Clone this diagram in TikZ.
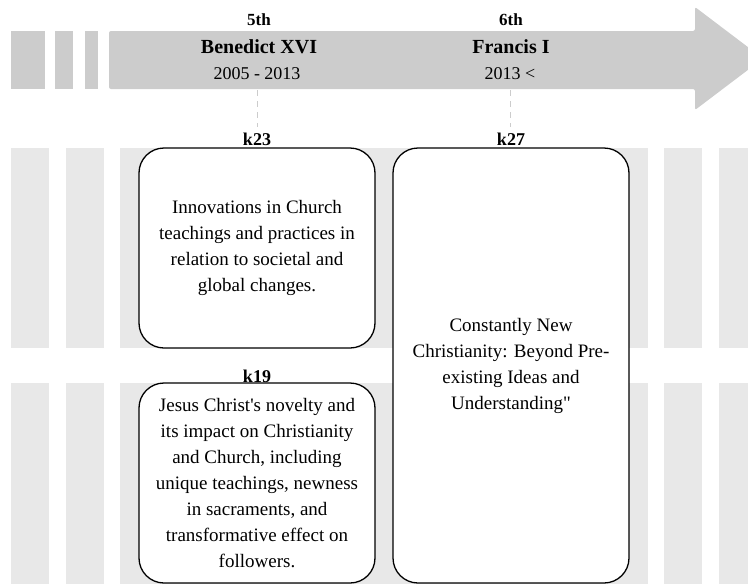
\documentclass[tikz,border=0pt]{standalone}
\usepackage{fontspec}
\setmainfont{Liberation Serif}
\definecolor{arrowgray}{HTML}{CCCCCC}
\definecolor{lanegray}{HTML}{E8E8E8}
\definecolor{dashgray}{HTML}{CCCCCC}
\tikzset{
  lane/.style={fill=lanegray, draw=none},
  arrowpart/.style={fill=arrowgray, draw=none},
  topicbox/.style={draw=black, line width=1.3pt, fill=white, rounded corners=25pt,
    minimum width=236pt, align=center, inner sep=0pt,
    font=\fontsize{19}{26}\selectfont},
  ordinal/.style={anchor=base, font=\fontsize{17}{18}\selectfont\bfseries, inner sep=0pt},
  popename/.style={anchor=base, font=\fontsize{20}{22}\selectfont\bfseries, inner sep=0pt},
  years/.style={anchor=base, font=\fontsize{18}{20}\selectfont, inner sep=0pt},
  klabel/.style={anchor=base, font=\fontsize{18}{20}\selectfont\bfseries, inner sep=0pt},
  timedash/.style={draw=dashgray, line width=1pt, dash pattern=on 6pt off 5pt}
}
\begin{document}
\begin{tikzpicture}[x=1pt,y=-1pt]
\useasboundingbox (0,0) rectangle (748,584);
\clip (0,0) rectangle (748,584);
% lanes
\foreach \ya/\yb in {148/348, 383/590}{
  \fill[lane] (11,\ya) rectangle (49,\yb);
  \fill[lane] (66,\ya) rectangle (104,\yb);
  \fill[lane] (120,\ya) rectangle (648,\yb);
  \fill[lane] (664,\ya) rectangle (702,\yb);
  \fill[lane] (719,\ya) rectangle (757,\yb);
}
% timeline arrow
\fill[arrowpart] (11,31) rectangle (45,89);
\fill[arrowpart] (55,31) rectangle (73,89);
\fill[arrowpart] (85,31) rectangle (98,89);
\fill[arrowpart, rounded corners=2pt] (109,31) -- (695,31) -- (695,7) -- (763,58.5) -- (695,110) -- (695,89) -- (109,89) -- cycle;
% headers
\node[ordinal] (o5) at (259,25) {5th};
\node[popename] (p5) at (259,53) {Benedict XVI};
\node[years] (y5) at (257,79) {2005 - 2013};
\node[ordinal] (o6) at (511,25) {6th};
\node[popename] (p6) at (511,53) {Francis I};
\node[years] (y6) at (510,79) {2013 <};
% dashed connectors
\coordinate (d5a) at (257,90);
\coordinate (d5b) at (257,127);
\coordinate (d6a) at (510,90);
\coordinate (d6b) at (510,127);
\draw[timedash] (d5a) -- (d5b);
\draw[timedash] (d6a) -- (d6b);
% labels
\node[klabel] (l23) at (257,145) {k23};
\node[klabel] (l27) at (511,145) {k27};
\node[klabel] (l19) at (257,382) {k19};
% boxes
\node[topicbox, minimum height=200pt] (k23) at (257,248) {Innovations in Church\\teachings and practices in\\relation to societal and\\global changes.};
\node[topicbox, minimum height=200pt] (k19) at (257,483) {Jesus Christ\textquotesingle s novelty and\\its impact on Christianity\\and Church, including\\unique teachings, newness\\in sacraments, and\\transformative effect on\\followers.};
\node[topicbox, minimum height=435pt] (k27) at (511,365.5) {Constantly New\\Christianity: Beyond Pre-\\existing Ideas and\\Understanding\textquotedbl};
\end{tikzpicture}
\end{document}
